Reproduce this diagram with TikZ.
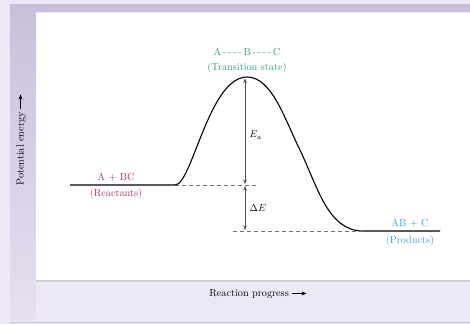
\documentclass[tikz,border=0pt]{standalone}
\usetikzlibrary{arrows.meta}
\definecolor{bgl}{HTML}{EDE8F5}
\definecolor{bandp}{HTML}{C9BFDD}
\definecolor{tealc}{HTML}{3A9A7E}
\definecolor{magc}{HTML}{B0336A}
\definecolor{bluec}{HTML}{3FA0D6}
\definecolor{panelline}{HTML}{CFCFD4}
\begin{document}
\begin{tikzpicture}[x=1bp,y=-1bp,
  lbl/.style={font=\fontsize{10.3}{12}\selectfont, inner sep=0.5pt},
  dimarrow/.style={draw=black!70, line width=0.5pt, {Stealth[length=4.5pt,width=3.5pt]}-{Stealth[length=4.5pt,width=3.5pt]}},
  guide/.style={draw=black!55, dashed, dash pattern=on 4pt off 3pt, line width=0.5pt},
  curveline/.style={draw=black, line width=1.1pt}]
\useasboundingbox (0,0) rectangle (470,324);
% backgrounds
\fill[bgl] (0,0) rectangle (470,324);
\fill[bandp] (10,4) rectangle (470,12);
\shade[top color=bandp, bottom color=bgl!80!bandp] (10,4) rectangle (36,320);
\fill[white] (36,12.5) rectangle (470,280.5);
\draw[panelline, line width=1.2pt] (36,281) -- (470,281);
\draw[bandp, line width=1pt] (10,322) -- (470,322);
% energy profile
\draw[curveline] (70,185) -- (175,185)
  .. controls (192,185) and (209,77) .. (247,77)
  .. controls (272,77) and (285,120) .. (300,150)
  .. controls (318,188) and (328,230) .. (362,231) -- (440,231);
% guides
\coordinate (rl) at (175,185);
\coordinate (rr) at (258,185);
\coordinate (pl) at (233,231);
\coordinate (pr) at (365,231);
\draw[guide] (rl) -- (rr);
\draw[guide] (pl) -- (pr);
% arrows
\coordinate (top) at (245,78.5);
\coordinate (midA) at (245,184);
\coordinate (midB) at (245,186);
\coordinate (bot) at (245,230);
\draw[dimarrow] (top) -- (midA);
\draw[dimarrow] (midB) -- (bot);
\node[lbl, anchor=west] (ea) at (249,135) {$E_{\mathrm{a}}$};
\node[lbl, anchor=west] (de) at (249,208) {$\Delta E$};
% labels
\node[lbl, text=tealc] (ts1) at (247,52) {A\,-\,-\,-\,-\,B\,-\,-\,-\,-\,C};
\node[lbl, text=tealc] (ts2) at (247,68) {(Transition state)};
\node[lbl, text=magc] (r1) at (116,177) {A + BC};
\node[lbl, text=magc] (r2) at (116,194) {(Reactants)};
\node[lbl, text=bluec] (p1) at (410,223) {AB + C};
\node[lbl, text=bluec] (p2) at (410,241) {(Products)};
\node[lbl] (xl) at (258,294) {Reaction progress \tikz[baseline=-3pt]\draw[-{Stealth[length=5pt,width=4pt]},line width=0.5pt](0,0)--(14bp,0);};
\node[lbl, rotate=90] (yl) at (21,140) {Potential energy \tikz[baseline=-3pt]\draw[-{Stealth[length=5pt,width=4pt]},line width=0.5pt](0,0)--(14bp,0);};
\end{tikzpicture}
\end{document}
